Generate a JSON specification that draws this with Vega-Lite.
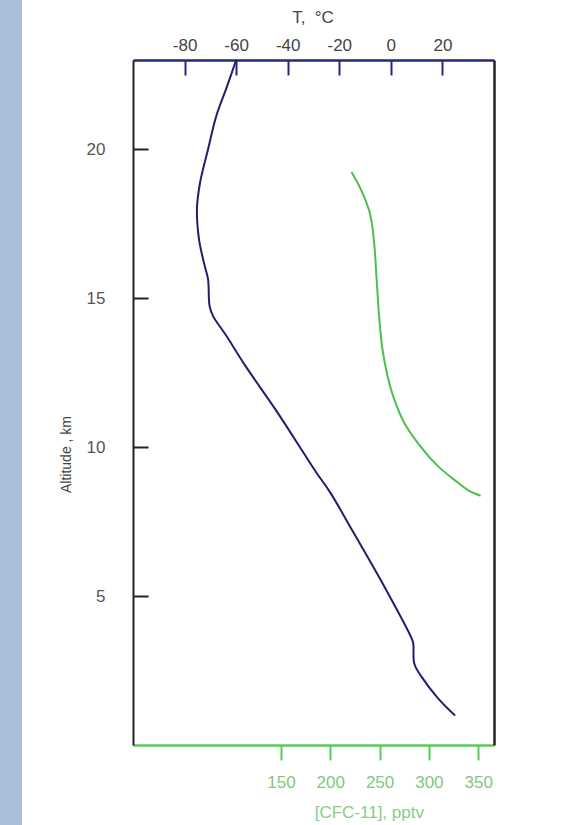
{
  "$schema": "https://vega.github.io/schema/vega-lite/v6.json",
  "width": 361,
  "height": 685,
  "autosize": {"type": "none"},
  "padding": {"left": 133, "top": 60, "right": 72, "bottom": 80},
  "background": "#a9bedb",
  "config": {
    "font": "Liberation Sans",
    "view": {"stroke": "#ffffff", "strokeWidth": 222, "fill": "#ffffff"},
    "axis": {"grid": false, "labelFont": "Liberation Sans", "titleFont": "Liberation Sans", "titleFontWeight": "normal"}
  },
  "datasets": {
    "temp": [
      {"alt": 23.0, "T": -60.0},
      {"alt": 22.1, "T": -63.6},
      {"alt": 21.12, "T": -67.7},
      {"alt": 20.0, "T": -70.9},
      {"alt": 18.88, "T": -74.0},
      {"alt": 17.99, "T": -75.2},
      {"alt": 16.98, "T": -74.4},
      {"alt": 16.09, "T": -72.2},
      {"alt": 15.64, "T": -70.9},
      {"alt": 14.74, "T": -70.3},
      {"alt": 14.41, "T": -69.0},
      {"alt": 13.74, "T": -63.8},
      {"alt": 12.73, "T": -56.4},
      {"alt": 11.17, "T": -44.0},
      {"alt": 9.16, "T": -29.0},
      {"alt": 8.49, "T": -23.6},
      {"alt": 7.15, "T": -14.6},
      {"alt": 5.58, "T": -4.2},
      {"alt": 3.57, "T": 8.1},
      {"alt": 3.4, "T": 8.7},
      {"alt": 2.73, "T": 9.1},
      {"alt": 2.28, "T": 12.0},
      {"alt": 1.56, "T": 18.4},
      {"alt": 0.99, "T": 24.9}
    ],
    "cfc": [
      {"alt": 19.24, "CFC": 221.5},
      {"alt": 18.66, "CFC": 231.0},
      {"alt": 17.99, "CFC": 239.0},
      {"alt": 17.65, "CFC": 241.5},
      {"alt": 16.87, "CFC": 244.5},
      {"alt": 15.64, "CFC": 247.0},
      {"alt": 14.41, "CFC": 249.5},
      {"alt": 13.29, "CFC": 252.9},
      {"alt": 12.4, "CFC": 258.0},
      {"alt": 11.62, "CFC": 264.7},
      {"alt": 10.83, "CFC": 274.8},
      {"alt": 10.16, "CFC": 288.3},
      {"alt": 9.38, "CFC": 308.6},
      {"alt": 8.82, "CFC": 329.0},
      {"alt": 8.55, "CFC": 340.0},
      {"alt": 8.37, "CFC": 352.4}
    ]
  },
  "layer": [
    {
      "data": {"name": "temp"},
      "mark": {"type": "line", "color": "#1f1f6e", "strokeWidth": 2, "interpolate": "catmull-rom"},
      "encoding": {
        "x": {
          "field": "T",
          "type": "quantitative",
          "scale": {"domain": [-100, 40], "nice": false, "zero": false},
          "axis": {
            "orient": "top",
            "values": [-80, -60, -40, -20, 0, 20],
            "labelExpr": "replace(datum.label, '−', '-')",
            "title": "T,\u00a0 °C",
            "domainColor": "#26267a",
            "domainWidth": 2.5,
            "tickColor": "#26267a",
            "tickWidth": 2,
            "tickSize": -15,
            "labelPadding": 30,
            "labelBaseline": "middle",
            "labelFontSize": 17,
            "labelColor": "#444444",
            "titleFontSize": 17,
            "titleColor": "#444444",
            "titleX": 179.5,
            "titleY": -42.5,
            "titleBaseline": "middle",
            "titleAlign": "center"
          }
        },
        "y": {
          "field": "alt",
          "type": "quantitative",
          "scale": {"domain": [0, 23], "nice": false, "zero": false},
          "axis": {
            "orient": "left",
            "values": [5, 10, 15, 20],
            "title": "Altitude , km",
            "domainColor": "#222222",
            "domainWidth": 2,
            "tickColor": "#222222",
            "tickWidth": 2,
            "tickSize": -15,
            "labelPadding": 43,
            "labelFontSize": 17,
            "labelColor": "#555555",
            "titleFontSize": 14,
            "titleColor": "#444444",
            "titleX": -66.5,
            "titleY": 394,
            "titleAngle": -90,
            "titleBaseline": "middle",
            "titleAlign": "center"
          }
        },
        "order": {"field": "alt", "type": "quantitative"}
      }
    },
    {
      "data": {"name": "cfc"},
      "mark": {"type": "line", "color": "#4cc04c", "strokeWidth": 2, "interpolate": "catmull-rom"},
      "encoding": {
        "x": {
          "field": "CFC",
          "type": "quantitative",
          "scale": {"domain": [0, 366], "nice": false, "zero": false},
          "axis": {
            "orient": "bottom",
            "values": [150, 200, 250, 300, 350],
            "title": "[CFC-11], pptv",
            "domainColor": "#55cc55",
            "domainWidth": 2.5,
            "tickColor": "#55cc55",
            "tickWidth": 2,
            "tickSize": 15,
            "labelPadding": 22,
            "labelBaseline": "middle",
            "labelFontSize": 17,
            "labelColor": "#80c880",
            "titleFontSize": 17,
            "titleColor": "#88cc88",
            "titleX": 235.8,
            "titleY": 67.5,
            "titleBaseline": "middle",
            "titleAlign": "center"
          }
        },
        "y": {
          "field": "alt",
          "type": "quantitative",
          "scale": {"domain": [0, 23], "nice": false, "zero": false},
          "axis": {
            "orient": "right",
            "values": [],
            "labels": false,
            "ticks": false,
            "title": null,
            "domainColor": "#222222",
            "domainWidth": 2.5
          }
        },
        "order": {"field": "alt", "type": "quantitative"}
      }
    }
  ],
  "resolve": {"scale": {"x": "independent", "y": "independent"}, "axis": {"x": "independent", "y": "independent"}}
}
